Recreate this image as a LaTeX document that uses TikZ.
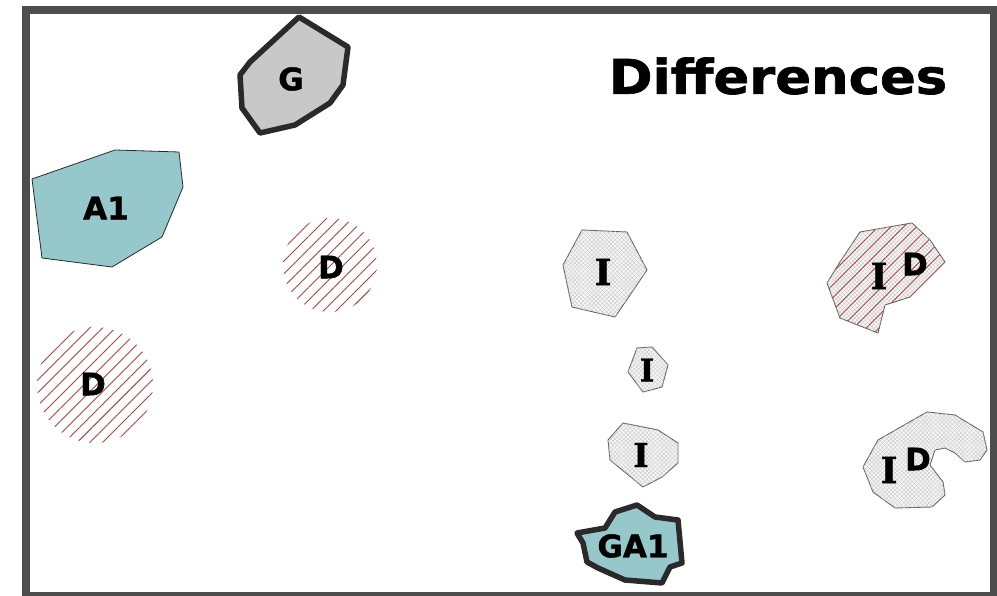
\documentclass[tikz,border=0pt]{standalone}
\usepackage{fontspec}
\setmainfont{DejaVu Sans}[BoldFeatures={FakeBold=1.3}]
\newfontfamily\slabfont{DejaVu Serif}[BoldFeatures={FakeBold=1.3}]
\usetikzlibrary{patterns,patterns.meta}
\definecolor{framegray}{HTML}{4D4D4D}
\definecolor{tealfill}{HTML}{96C8CB}
\definecolor{gfill}{HTML}{C8C8C8}
\definecolor{darkline}{HTML}{2A2A2A}
\definecolor{hatchred}{HTML}{B84040}
\tikzset{
  lbl/.style={font=\fontsize{31}{31}\selectfont\bfseries, inner sep=0pt},
  ilbl/.style={font=\fontsize{36}{36}\selectfont\slabfont\bfseries, inner sep=0pt},
  thickpoly/.style={draw=darkline, line width=5.5pt, line join=round},
  thinpoly/.style={draw=darkline, line width=0.8pt, line join=round},
  ipoly/.style={draw=gray!75!black, line width=0.9pt, line join=round, fill=gray!8,
    postaction={pattern={Lines[angle=45,distance=3pt,line width=0.35pt]}, pattern color=gray!45},
    postaction={pattern={Lines[angle=-45,distance=3pt,line width=0.35pt]}, pattern color=gray!45}},
  redhatch/.style={pattern={Lines[angle=45,distance=9pt,line width=0.9pt]}, pattern color=hatchred},
}
\begin{document}
\begin{tikzpicture}[x=1pt,y=-1pt]
\useasboundingbox (0,0) rectangle (997,596);
% frame
\fill[framegray] (22,6) rectangle (997,596);
\fill[white] (30,14) rectangle (990,592);

% title
\node[font=\fontsize{48}{48}\selectfont\bfseries, inner sep=0pt, xscale=1.1] (title) at (778,76) {Differences};

% G
\draw[thickpoly, fill=gfill] (299,17) -- (348,47) -- (343,85) -- (330,103) -- (295,125) -- (260,133) -- (242,108) -- (240,75) -- (250,62) -- cycle;
\node[lbl] (g) at (291,79) {G};

% A1
\draw[thinpoly, fill=tealfill] (32,179) -- (115,150) -- (179,152) -- (183,187) -- (162,237) -- (112,267) -- (42,258) -- cycle;
\node[lbl] (a1) at (106,208) {A1};

% D hatched circles
\path[redhatch] (330,265) circle (47);
\node[lbl] (d1) at (331,267) {D};
\path[redhatch] (95,385) circle (58);
\node[lbl] (d2) at (93,384) {D};

% I shapes
\draw[ipoly] (582,230) -- (627,232) -- (647,270) -- (615,317) -- (572,307) -- (563,265) -- cycle;
\node[ilbl] (i1) at (603,272) {I};
\draw[ipoly] (637,348) -- (652,347) -- (668,365) -- (662,387) -- (643,392) -- (628,372) -- cycle;
\node[ilbl, font=\fontsize{31}{31}\selectfont\slabfont\bfseries] (i2) at (647,370) {I};
\draw[ipoly] (623,423) -- (658,430) -- (678,443) -- (678,463) -- (662,477) -- (643,487) -- (610,460) -- (608,440) -- cycle;
\node[ilbl, font=\fontsize{33}{33}\selectfont\slabfont\bfseries] (i3) at (641,455) {I};

% GA1
\draw[thickpoly, fill=tealfill] (615,512) -- (637,505) -- (655,517) -- (678,520) -- (682,563) -- (670,567) -- (662,583) -- (625,580) -- (598,568) -- (587,562) -- (583,543) -- (577,533) -- (605,528) -- cycle;
\node[lbl] (ga1) at (633,546) {GA1};

% ID shape 1 (hatched)
\draw[ipoly, postaction={redhatch}] (860,232) -- (912,223) -- (930,240) -- (945,262) -- (910,297) -- (885,305) -- (878,333) -- (840,318) -- (827,283) -- (840,262) -- cycle;
\node[ilbl] (i4) at (879,276) {I};
\node[lbl] (d3) at (915,264) {D};

% ID shape 2
\draw[ipoly] (878,440) -- (927,412) -- (955,415) -- (983,432) -- (987,450) -- (980,460) -- (965,462) -- (955,453) -- (945,448) -- (935,450) -- (930,465) -- (943,482) -- (945,495) -- (932,507) -- (895,508) -- (873,492) -- (863,467) -- cycle;
\node[ilbl] (i5) at (889,470) {I};
\node[lbl] (d4) at (918,459) {D};
\end{tikzpicture}
\end{document}
